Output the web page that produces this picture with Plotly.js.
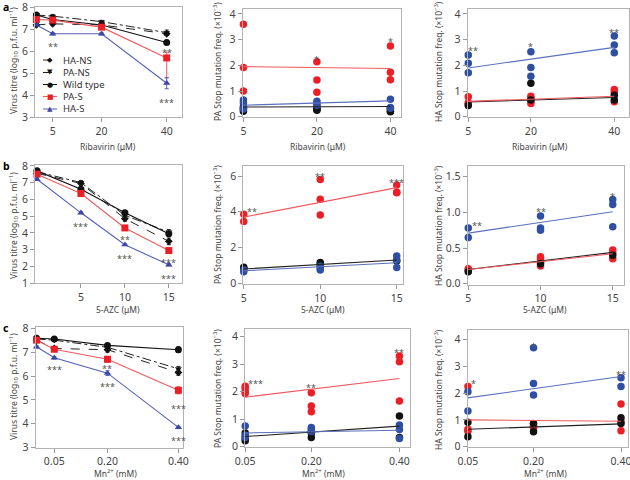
<!DOCTYPE html>
<html><head><meta charset="utf-8">
<script src="https://cdn.plot.ly/plotly-3.0.1.min.js"></script>
<style>html,body{margin:0;padding:0;background:#fff}#chart{width:630px;height:480px}</style>
</head><body><div id="chart"></div>
<script>
// ================= DATA =================
const seriesNames = ['HA-NS', 'PA-NS', 'Wild type', 'PA-S', 'HA-S'];

// Panel a (left): virus titre vs ribavirin
const ribDose = [0, 5, 20, 40];
const ribHANS = [7.2, 7.25, 7.2, 6.8];
const ribPANS = [7.65, 7.6, 7.35, 6.85];
const ribWT   = [7.65, 7.45, 7.2, 6.4];
const ribPAS  = [7.45, 7.42, 7.1, 5.7];
const ribHAS  = [7.2, 6.8, 6.8, 4.55];
const ribErrHANS = [0, 0.06, 0.04, 0.08];
const ribErrPANS = [0, 0.08, 0.06, 0.12];
const ribErrWT   = [0, 0.04, 0.05, 0.06];
const ribErrPAS  = [0, 0.05, 0.08, 0.27];
const ribErrPASminus = [0, 0.05, 0.08, 0.9];
const ribErrHAS  = [0, 0.05, 0.05, 0.25];

// Panel b (left): virus titre vs 5-AZC
const azcDose = [0, 5, 10, 15];
const azcHANS = [7.55, 6.95, 4.85, 3.5];
const azcPANS = [7.65, 7.0, 5.05, 4.05];
const azcWT   = [7.7, 6.6, 5.2, 3.95];
const azcPAS  = [7.5, 6.35, 4.3, 2.95];
const azcHAS  = [7.2, 5.2, 3.3, 2.1];
const azcErrHANS = [0.05, 0.1, 0.15, 0.2];
const azcErrPANS = [0.05, 0.12, 0.12, 0.15];
const azcErrWT   = [0.05, 0.05, 0.1, 0.12];
const azcErrPAS  = [0.05, 0.08, 0.1, 0.1];
const azcErrHAS  = [0.05, 0.05, 0.05, 0.06];

// Panel c (left): virus titre vs Mn2+
const mnDose = [0, 0.05, 0.2, 0.4];
const mnHANS = [7.5, 7.15, 7.1, 6.15];
const mnPANS = [7.55, 7.5, 7.2, 6.3];
const mnWT   = [7.58, 7.55, 7.28, 7.1];
const mnPAS  = [7.5, 7.12, 6.7, 5.4];
const mnHAS  = [7.22, 6.76, 6.12, 3.85];
const mnErrHANS = [0.05, 0.06, 0.1, 0.12];
const mnErrPANS = [0.05, 0.05, 0.1, 0.1];
const mnErrWT   = [0.04, 0.05, 0.08, 0.12];
const mnErrPAS  = [0.05, 0.08, 0.12, 0.15];
const mnErrHAS  = [0.05, 0.05, 0.1, 0.05];

// Stop mutation frequencies (x10^-3), grouped per dose
const ribStopDose = [5, 20, 40];
const paRibRed   = [[3.6, 1.92, 1.0], [2.14, 1.43, 0.95], [2.75, 1.73, 1.44]];
const paRibBlack = [[0.4, 0.3, 0.22], [0.35, 0.28, 0.25], [0.3, 0.22, 0.2]];
const paRibBlue  = [[0.65, 0.55, 0.33, 0.3], [0.6, 0.5, 0.45], [0.68, 0.36, 0.33]];
const haRibRed   = [[0.78, 0.55, 0.5], [0.8, 0.72, 0.62, 0.52], [1.06, 0.95, 0.58]];
const haRibBlack = [[0.44], [1.3, 0.65], [0.84, 0.65]];
const haRibBlue  = [[2.4, 2.08, 1.71], [2.53, 1.92, 1.58], [3.14, 2.79, 2.49]];

const azcStopDose = [5, 10, 15];
const paAzcRed   = [[3.86, 3.45], [5.81, 4.7, 3.82], [5.5, 5.09, 5.07]];
const paAzcBlack = [[0.9, 0.82], [1.16, 1.05], [1.25]];
const paAzcBlue  = [[0.75, 0.65], [0.95, 0.85, 0.75], [1.53, 1.3, 0.88]];
const haAzcRed   = [[0.21, 0.19], [0.38, 0.35, 0.3, 0.25], [0.475, 0.43, 0.35]];
const haAzcBlack = [[0.17], [0.28], [0.4]];
const haAzcBlue  = [[0.78, 0.65], [0.95, 0.78, 0.75], [1.18, 1.11, 0.8]];

const mnStopDose = [0.05, 0.2, 0.4];
const paMnRed   = [[2.2, 2.12, 2.0, 1.94], [1.96, 1.48, 1.27], [3.3, 3.09, 1.66]];
const paMnBlack = [[0.5, 0.3, 0.22], [0.34, 0.5], [1.12, 0.34]];
const paMnBlue  = [[0.75, 0.42, 0.34], [0.7, 0.62, 0.55], [0.79, 0.63, 0.3]];
const haMnRed   = [[2.24, 0.65, 0.58], [0.85, 0.75, 0.7], [1.59, 0.93, 0.6]];
const haMnBlack = [[0.91, 0.37], [0.87, 0.56], [1.08, 0.87]];
const haMnBlue  = [[2.05, 1.33], [3.69, 2.36, 1.93], [2.57, 2.24]];

// Linear-fit lines: [red, black, blue] at first and last dose
const paRibFitStart = [1.95, 0.38, 0.45], paRibFitEnd = [1.88, 0.40, 0.62];
const haRibFitStart = [0.60, 0.58, 1.90], haRibFitEnd = [0.80, 0.75, 2.70];
const paAzcFitStart = [3.70, 0.80, 0.70], paAzcFitEnd = [5.35, 1.30, 1.15];
const haAzcFitStart = [0.20, 0.20, 0.71], haAzcFitEnd = [0.42, 0.44, 1.01];
const paMnFitStart  = [1.80, 0.37, 0.50], paMnFitEnd  = [2.48, 0.75, 0.60];
const haMnFitStart  = [1.00, 0.65, 1.82], haMnFitEnd  = [0.95, 0.85, 2.62];

// Significance marks: [axis id, x, y, text]
const sigMarks = [
  ['', 5, 6.35, '**'], ['', 40, 6.08, '**'], ['', 40, 3.8, '***'],
  ['2', 1, 2.36, '*'], ['2', 2, 3.05, '*'],
  ['3', 6.2, 2.7, '**'], ['3', 20, 2.85, '*'], ['3', 40, 3.4, '**'],
  ['4', 5, 4.58, '***'], ['4', 10, 3.8, '**'], ['4', 10, 2.65, '***'], ['4', 15, 2.43, '***'], ['4', 15, 1.44, '***'],
  ['5', 5.55, 4.2, '**'], ['5', 10, 6.15, '**'], ['5', 15, 5.8, '***'],
  ['6', 5.6, 0.86, '**'], ['6', 10, 1.05, '**'], ['6', 15, 1.27, '*'],
  ['7', 0.05, 6.38, '***'], ['7', 0.2, 6.45, '**'], ['7', 0.2, 5.7, '***'], ['7', 0.4, 4.75, '***'], ['7', 0.4, 3.43, '***'],
  ['8', 0.074, 2.4, '***'], ['8', 0.2, 2.25, '**'], ['8', 0.4, 3.55, '**'],
  ['9', 0.062, 2.45, '*'], ['9', 0.2, 3.85, '*'], ['9', 0.4, 2.8, '**']
];

// ================= STYLE =================
const FONT = '"Noto Sans", "Open Sans", "DejaVu Sans", sans-serif';
const RED = '#ec1f26', BLUE = '#2f4fa3', BLACK = '#111111';
const RED_LINE = '#f0595d', BLUE_LINE = '#5a70bd', BLACK_LINE = '#222222';
const TITRE_BLUE = '#3d47a6';

const titreStyle = [
  {dash: 'dash',    symbol: 'diamond',       color: BLACK, line: '#222', size: 6, glyph: '◆'},
  {dash: 'dashdot', symbol: 'triangle-down', color: BLACK, line: '#222', size: 6, glyph: '▼'},
  {dash: 'solid',   symbol: 'circle',        color: BLACK, line: '#111', size: 7, glyph: '●'},
  {dash: 'solid',   symbol: 'square',        color: RED,   line: RED_LINE, size: 7, glyph: '■'},
  {dash: 'solid',   symbol: 'triangle-up',   color: TITRE_BLUE, line: '#5560b8', size: 6.5, glyph: '▲'}
];

const traces = [];

function addTitre(ax, dose, ys, errs, errMinus) {
  ys.forEach((y, i) => {
    const st = titreStyle[i];
    const e = {type: 'data', array: errs[i], visible: true, thickness: 1, width: 2, color: st.line};
    if (errMinus[i]) { e.symmetric = false; e.arrayminus = errMinus[i]; }
    traces.push({
      type: 'scatter', mode: 'lines+markers', name: seriesNames[i],
      x: dose, y: y, xaxis: 'x' + ax, yaxis: 'y' + ax, cliponaxis: false,
      line: {color: st.line, width: st.dash === 'solid' ? 1.1 : 1, dash: st.dash},
      marker: {symbol: st.symbol, size: st.size, color: st.color},
      error_y: e, showlegend: false
    });
  });
}

function flatten(doses, groups, cat) {
  const x = [], y = [];
  groups.forEach((g, i) => g.forEach(v => { x.push(cat ? String(doses[i]) : doses[i]); y.push(v); }));
  return {x, y};
}

function addStop(ax, doses, red, black, blue, fitStart, fitEnd, cat) {
  [[red, RED], [black, BLACK], [blue, BLUE]].forEach(([g, c]) => {
    const f = flatten(doses, g, cat);
    traces.push({type: 'scatter', mode: 'markers', x: f.x, y: f.y, xaxis: 'x' + ax, yaxis: 'y' + ax,
      cliponaxis: false, marker: {size: 7.5, color: c}, showlegend: false, hoverinfo: 'skip'});
  });
  const xe = cat ? [String(doses[0]), String(doses[doses.length - 1])] : [doses[0], doses[doses.length - 1]];
  [[1, BLACK_LINE], [0, RED_LINE], [2, BLUE_LINE]].forEach(([k, c]) => {
    traces.push({type: 'scatter', mode: 'lines', x: xe, y: [fitStart[k], fitEnd[k]],
      xaxis: 'x' + ax, yaxis: 'y' + ax, cliponaxis: false, line: {color: c, width: 1.1}, showlegend: false});
  });
}

addTitre('', ribDose, [ribHANS, ribPANS, ribWT, ribPAS, ribHAS],
  [ribErrHANS, ribErrPANS, ribErrWT, ribErrPAS, ribErrHAS], [null, null, null, ribErrPASminus, null]);
addStop('2', ribStopDose, paRibRed, paRibBlack, paRibBlue, paRibFitStart, paRibFitEnd, true);
addStop('3', ribStopDose, haRibRed, haRibBlack, haRibBlue, haRibFitStart, haRibFitEnd, false);
addTitre('4', azcDose, [azcHANS, azcPANS, azcWT, azcPAS, azcHAS],
  [azcErrHANS, azcErrPANS, azcErrWT, azcErrPAS, azcErrHAS], []);
addStop('5', azcStopDose, paAzcRed, paAzcBlack, paAzcBlue, paAzcFitStart, paAzcFitEnd, false);
addStop('6', azcStopDose, haAzcRed, haAzcBlack, haAzcBlue, haAzcFitStart, haAzcFitEnd, false);
addTitre('7', mnDose, [mnHANS, mnPANS, mnWT, mnPAS, mnHAS],
  [mnErrHANS, mnErrPANS, mnErrWT, mnErrPAS, mnErrHAS], []);
addStop('8', mnStopDose, paMnRed, paMnBlack, paMnBlue, paMnFitStart, paMnFitEnd, false);
addStop('9', mnStopDose, haMnRed, haMnBlack, haMnBlue, haMnFitStart, haMnFitEnd, false);

// ================= LAYOUT =================
const W = 630, H = 480;
const dx = (a, b) => [a / W, b / W];
const dy = (t, b) => [1 - b / H, 1 - t / H];
const tickFont = {family: FONT, size: 10.5, color: '#444'};

function ax(domain, range, extra) {
  return Object.assign({domain, range, showline: true, mirror: true, linecolor: '#b3b3b3', linewidth: 1,
    ticks: 'outside', ticklen: 4, tickwidth: 1, tickcolor: '#999', showgrid: false, zeroline: false,
    tickfont: tickFont, fixedrange: true, ticklabeloverflow: 'allow'}, extra || {});
}

const layout = {
  width: W, height: H, margin: {l: 0, r: 0, t: 0, b: 0},
  paper_bgcolor: '#fff', plot_bgcolor: 'rgba(0,0,0,0)', showlegend: false,
  font: {family: FONT, color: '#444'},
  xaxis:  ax(dx(35, 181.7), [-0.43, 44.6], {anchor: 'y', tickvals: [5, 20, 40]}),
  yaxis:  ax(dy(6.7, 117.3), [3, 8.03], {anchor: 'x', tickvals: [3, 4, 5, 6, 7, 8]}),
  xaxis2: ax(dx(242.7, 400.7), [-0.01, 2.14], {anchor: 'y2', type: 'category', categoryorder: 'array', categoryarray: ribStopDose.map(String)}),
  yaxis2: ax(dy(9.3, 117.3), [-0.02, 4.18], {anchor: 'x2', tickvals: [0, 1, 2, 3, 4]}),
  xaxis3: ax(dx(467.7, 628.5), [4.86, 43.4], {anchor: 'y3', tickvals: ribStopDose}),
  yaxis3: ax(dy(9.3, 117.3), [-0.02, 4.18], {anchor: 'x3', tickvals: [0, 1, 2, 3, 4]}),
  xaxis4: ax(dx(35, 182), [-0.23, 16.5], {anchor: 'y4', tickvals: [5, 10, 15]}),
  yaxis4: ax(dy(165, 283.3), [1, 8.05], {anchor: 'x4', tickvals: [1, 2, 3, 4, 5, 6, 7, 8]}),
  xaxis5: ax(dx(243.3, 403.3), [4.97, 15.43], {anchor: 'y5', tickvals: azcStopDose}),
  yaxis5: ax(dy(166, 284), [-0.04, 6.56], {anchor: 'x5', tickvals: [0, 2, 4, 6]}),
  xaxis6: ax(dx(467.7, 624), [4.96, 15.78], {anchor: 'y6', tickvals: azcStopDose}),
  yaxis6: ax(dy(166, 284.5), [-0.01, 1.65], {anchor: 'x6', tickvals: [0, 0.5, 1, 1.5], ticktext: ['0.0', '0.5', '1.0', '1.5']}),
  xaxis7: ax(dx(35.5, 183), [-0.003, 0.413], {anchor: 'y7', tickvals: mnStopDose, ticktext: ['0.05', '0.20', '0.40']}),
  yaxis7: ax(dy(327, 447.7), [3, 8.05], {anchor: 'x7', tickvals: [3, 4, 5, 6, 7, 8]}),
  xaxis8: ax(dx(245, 410), [0.0495, 0.424], {anchor: 'y8', tickvals: mnStopDose, ticktext: ['0.05', '0.20', '0.40']}),
  yaxis8: ax(dy(329.3, 447), [-0.01, 4.27], {anchor: 'x8', tickvals: [0, 1, 2, 3, 4]}),
  xaxis9: ax(dx(467.7, 628.3), [0.0495, 0.4167], {anchor: 'y9', tickvals: mnStopDose, ticktext: ['0.05', '0.20', '0.40']}),
  yaxis9: ax(dy(330, 447), [-0.01, 4.35], {anchor: 'x9', tickvals: [0, 1, 2, 3, 4]}),
  shapes: [], annotations: []
};

const titleFont = {family: FONT, size: 8.5, color: '#444'};
function note(text, px, py, extra) {
  layout.annotations.push(Object.assign({text, xref: 'paper', yref: 'paper', x: px / W, y: 1 - py / H,
    showarrow: false, font: titleFont, xanchor: 'center', yanchor: 'middle'}, extra || {}));
}
// y-axis titles
const yTitleVirus = 'Virus titre (log<sub>10</sub> p.f.u. ml<sup>−1</sup>)';
const yTitlePA = 'PA Stop mutation freq. (×10<sup>−3</sup>)';
const yTitleHA = 'HA Stop mutation freq. (×10<sup>−3</sup>)';
note(yTitleVirus, 13, 61, {textangle: -90});
note(yTitleVirus, 13, 226, {textangle: -90});
note(yTitleVirus, 13, 387, {textangle: -90});
note(yTitlePA, 217, 62, {textangle: -90});
note(yTitlePA, 217, 225, {textangle: -90});
note(yTitlePA, 217, 389, {textangle: -90});
note(yTitleHA, 438, 62, {textangle: -90});
note(yTitleHA, 438, 226, {textangle: -90});
note(yTitleHA, 438, 390, {textangle: -90});
// x-axis titles
note('Ribavirin (μM)', 108, 146); note('Ribavirin (μM)', 318, 146); note('Ribavirin (μM)', 540, 146);
note('5-AZC (μM)', 118, 309.5); note('5-AZC (μM)', 323, 309.5); note('5-AZC (μM)', 545, 309.5);
note('Mn<sup>2+</sup> (mM)', 115, 473); note('Mn<sup>2+</sup> (mM)', 323, 473); note('Mn<sup>2+</sup> (mM)', 545, 473);
// panel letters
const letterFont = {family: FONT, size: 10.5, color: '#000'};
note('<b>a</b>', 1, 7, {xanchor: 'left', font: letterFont});
note('<b>b</b>', 1, 166, {xanchor: 'left', font: letterFont});
note('<b>c</b>', 1, 328, {xanchor: 'left', font: letterFont});

// significance marks
sigMarks.forEach(([a, x, y, t]) => {
  layout.annotations.push({text: t, xref: 'x' + a, yref: 'y' + a, x, y, showarrow: false,
    font: {family: FONT, size: 9, color: '#555'}, yshift: -3});
});

// legend (panel a, left)
const legRows = [60, 72.5, 84.5, 96.5, 109];
seriesNames.forEach((name, i) => {
  const st = titreStyle[i];
  const yy = 1 - legRows[i] / H;
  layout.shapes.push({type: 'line', xref: 'paper', yref: 'paper', x0: 43 / W, x1: 57 / W, y0: yy, y1: yy,
    line: {color: st.line, width: 1, dash: st.dash === 'solid' ? 'solid' : 'dash'}});
  layout.annotations.push({text: st.glyph, xref: 'paper', yref: 'paper', x: 50 / W, y: yy, showarrow: false,
    font: {family: 'DejaVu Sans', size: 7, color: st.color}, xanchor: 'center', yanchor: 'middle'});
  layout.annotations.push({text: name, xref: 'paper', yref: 'paper', x: 61 / W, y: yy, showarrow: false,
    font: {family: FONT, size: 9.5, color: '#333'}, xanchor: 'left', yanchor: 'middle'});
});

Plotly.newPlot('chart', traces, layout, {staticPlot: true, displayModeBar: false});
</script></body></html>
